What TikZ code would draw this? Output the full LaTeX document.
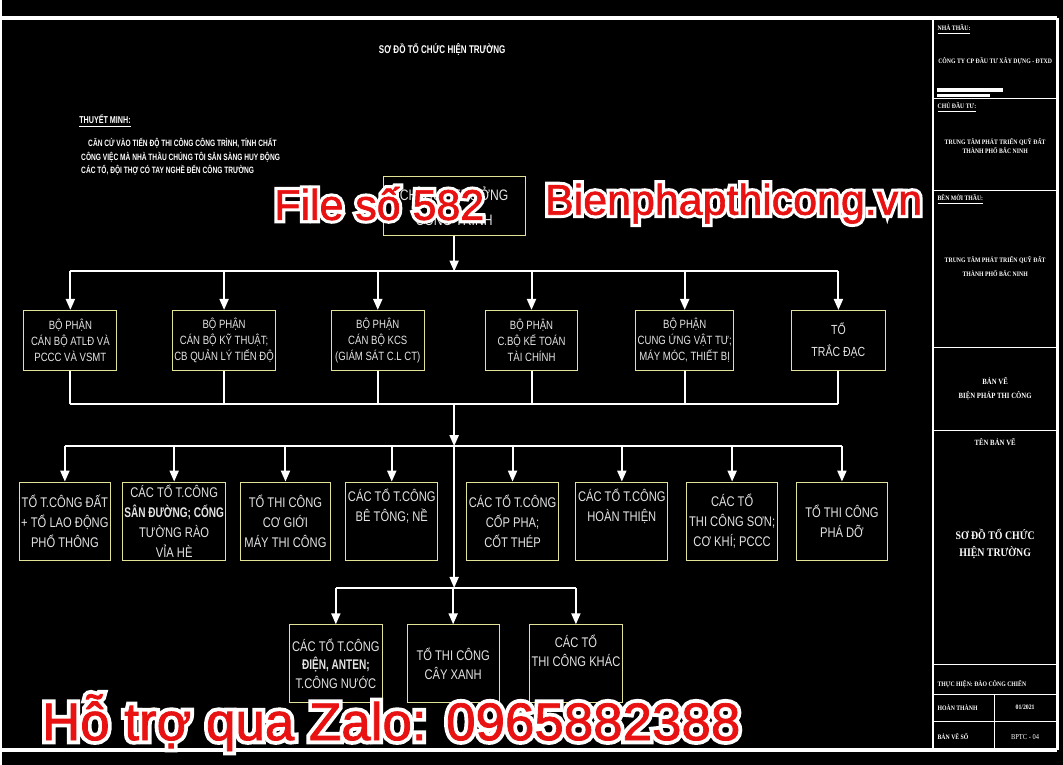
\documentclass[tikz,border=0pt]{standalone}
\usepackage{fontspec}
\usepackage{tikz}
\usetikzlibrary{arrows.meta,positioning,calc}
\setmainfont{Liberation Sans}
\newfontfamily\cadfont[FakeStretch=0.8]{Liberation Sans}
\newfontfamily\cadbold[FakeStretch=0.72]{Liberation Sans Bold}
\newfontfamily\tbfont[FakeStretch=0.85]{Liberation Serif}
\newfontfamily\haloface[FakeBold=16]{Liberation Sans}
\newfontfamily\redface[FakeBold=1.5]{Liberation Sans}
\definecolor{boxyellow}{RGB}{226,226,150}
\definecolor{cadgray}{RGB}{228,228,228}
\definecolor{zalored}{RGB}{232,18,18}

% red text with a white rim
\newcommand{\redmark}[4]{%
  \node[text=white, font=\haloface\fontsize{#3}{#3}\selectfont] at (#2) {#4};
  \node[text=zalored, font=\redface\fontsize{#3}{#3}\selectfont] (#1) at (#2) {#4};
}

\begin{document}
\begin{tikzpicture}[x=0.5pt,y=-0.5pt,
    link/.style={white, line width=1pt},
    arrowlink/.style={link, -{Triangle[width=4.5pt,length=5.5pt]}},
    rowa/.style={draw=boxyellow, line width=0.5pt, text=cadgray, align=center, inner sep=1pt,
      font=\cadfont\fontsize{6}{8}\selectfont, minimum width=46.5pt, minimum height=30pt},
    rowb/.style={rowa, font=\cadfont\fontsize{7}{10}\selectfont, minimum width=45.5pt, minimum height=39.5pt},
    rowc/.style={rowa, font=\cadfont\fontsize{7}{9.3}\selectfont, minimum width=46pt, minimum height=39pt},
    tbtext/.style={white, inner sep=0pt, font=\tbfont\bfseries\fontsize{3.4}{4.6}\selectfont, align=center},
    note/.style={white, inner sep=0pt, anchor=west, font=\cadbold\fontsize{4.6}{5}\selectfont}]

    % sheet
    \fill[black] (0,0) rectangle (1063,766);
    \draw[white, line width=2pt] (0,18) -- (1057,18);
    \draw[white, line width=2pt] (0,751) -- (1057,751);
    \draw[white, line width=1.5pt] (1057,18) -- (1057,751);
    \draw[white, line width=1pt] (933,18) -- (933,751);

    % title block
    \foreach \yy in {99,191,348,431,666,696,723}
        \draw[white, line width=0.6pt] (933,\yy) -- (1057,\yy);
    \draw[white, line width=0.6pt] (994,696) -- (994,751);
    \node[tbtext, anchor=west] (tbA) at (937,30) {\underline{NHÀ THẦU:}};
    \node[tbtext] (tbB) at (995,61) {CÔNG TY CP ĐẦU TƯ XÂY DỰNG - ĐTXD};
    \fill[white] (937,88) rectangle (1003,92);
    \fill[white] (937,94) rectangle (990,97);
    \node[tbtext, anchor=west] (tbC) at (937,108) {\underline{CHỦ ĐẦU TƯ:}};
    \node[tbtext] (tbD) at (995,146) {TRUNG TÂM PHÁT TRIỂN QUỸ ĐẤT\\THÀNH PHỐ BẮC NINH};
    \node[tbtext, anchor=west] (tbE) at (937,200) {\underline{BÊN MỜI THẦU:}};
    \node[tbtext] (tbF) at (995,267) {TRUNG TÂM PHÁT TRIỂN QUỸ ĐẤT\\[2pt]THÀNH PHỐ BẮC NINH};
    \node[tbtext, font=\tbfont\bfseries\fontsize{4}{7}\selectfont] (tbG) at (995,390) {BẢN VẼ\\BIỆN PHÁP THI CÔNG};
    \node[tbtext, font=\tbfont\bfseries\fontsize{4}{5}\selectfont] (tbH) at (995,443) {TÊN BẢN VẼ};
    \node[tbtext, font=\tbfont\bfseries\fontsize{5.8}{9}\selectfont] (tbI) at (995,545) {SƠ ĐỒ TỔ CHỨC\\HIỆN TRƯỜNG};
    \node[tbtext, anchor=west] (tbJ) at (937,685) {THỰC HIỆN: ĐÀO CÔNG CHIẾN};
    \node[tbtext, anchor=west] (tbK) at (937,709) {HOÀN THÀNH};
    \node[tbtext] (tbL) at (1025,709) {01/2021};
    \node[tbtext, anchor=west] (tbM) at (937,738) {BẢN VẼ SỐ};
    \node[tbtext, font=\tbfont\fontsize{3.8}{4.6}\selectfont] (tbN) at (1025,738) {BPTC - 04};

    % heading and notes
    \node[white, font=\cadbold\fontsize{5.6}{6}\selectfont] (title) at (441,50) {SƠ ĐỒ TỔ CHỨC HIỆN TRƯỜNG};
    \node[note, font=\cadbold\fontsize{5}{6}\selectfont] (tm) at (77,121) {\underline{THUYẾT MINH:}};
    \node[note] (tm1) at (86,143) {CĂN CỨ VÀO TIẾN ĐỘ THI CÔNG CÔNG TRÌNH, TÍNH CHẤT};
    \node[note] (tm2) at (79,157) {CÔNG VIỆC MÀ NHÀ THẦU CHÚNG TÔI SẴN SÀNG HUY ĐỘNG};
    \node[note] (tm3) at (79,171) {CÁC TỔ, ĐỘI THỢ CÓ TAY NGHỀ ĐẾN CÔNG TRƯỜNG};

    % top box
    \node[rowa, font=\cadfont\fontsize{7.6}{12.5}\selectfont, minimum width=71pt, minimum height=29.5pt]
        (chief) at (453,206.5) {CHỈ HUY TRƯỞNG\\CÔNG TRÌNH};

    % departments
    \node[rowa] (p1) at (68.5,341) {BỘ PHẬN\\CÁN BỘ ATLĐ VÀ\\PCCC VÀ VSMT};
    \node[rowa, minimum width=51.5pt] (p2) at (222.5,341) {BỘ PHẬN\\CÁN BỘ KỸ THUẬT;\\CB QUẢN LÝ TIẾN ĐỘ};
    \node[rowa] (p3) at (376.5,341) {BỘ PHẬN\\CÁN BỘ KCS\\(GIÁM SÁT C.L CT)};
    \node[rowa] (p4) at (530.5,341) {BỘ PHẬN\\C.BỘ KẾ TOÁN\\TÀI CHÍNH};
    \node[rowa, minimum width=47pt] (p5) at (684,341) {BỘ PHẬN\\CUNG ỨNG VẬT TƯ;\\MÁY MÓC, THIẾT BỊ};
    \node[rowa, minimum width=47pt, font=\cadfont\fontsize{6.6}{11}\selectfont] (p6) at (838,341) {TỔ\\TRẮC ĐẠC};

    % work teams
    \node[rowb] (q1) at (63,522.5) {TỔ T.CÔNG ĐẤT\\+ TỔ LAO ĐỘNG\\PHỔ THÔNG};
    \node[rowb, minimum width=46.5pt] (q2) at (172.5,522.5) {CÁC TỔ T.CÔNG\\{\cadbold SÂN ĐƯỜNG; CỐNG}\\TƯỜNG RÀO\\VỈA HÈ};
    \node[rowb] (q3) at (284,522.5) {TỔ THI CÔNG\\CƠ GIỚI\\MÁY THI CÔNG};
    \node[rowb] (q4) at (390.5,522.5) {CÁC TỔ T.CÔNG\\BÊ TÔNG; NỀ\\[6pt]};
    \node[rowb] (q5) at (511.5,522.5) {CÁC TỔ T.CÔNG\\CỐP PHA;\\CỐT THÉP};
    \node[rowb, minimum width=46pt] (q6) at (621,522.5) {CÁC TỔ T.CÔNG\\HOÀN THIỆN\\[6pt]};
    \node[rowb] (q7) at (731.5,522.5) {CÁC TỔ\\THI CÔNG SƠN;\\CƠ KHÍ; PCCC};
    \node[rowb] (q8) at (841.5,522.5) {TỔ THI CÔNG\\PHÁ DỠ};

    \node[rowc, minimum width=46.5pt] (r1) at (334.5,665) {CÁC TỔ T.CÔNG\\{\cadbold ĐIỆN, ANTEN;}\\T.CÔNG NƯỚC};
    \node[rowc] (r2) at (452,665) {TỔ THI CÔNG\\CÂY XANH};
    \node[rowc] (r3) at (575,665) {CÁC TỔ\\THI CÔNG KHÁC\\[4pt]};

    % connectors
    \coordinate (bus1) at (453,272);
    \coordinate (bus2) at (453,405);
    \coordinate (bus3) at (453,447);
    \coordinate (bus4) at (453,589);
    \draw[arrowlink] (chief) -- (bus1);
    \draw[link] (p1 |- bus1) -- (p6 |- bus1);
    \foreach \i in {1,...,6}
        \draw[arrowlink] (p\i |- bus1) -- (p\i.north);
    \foreach \i in {1,...,6}
        \draw[link] (p\i.south) -- (p\i |- bus2);
    \draw[link] (p1 |- bus2) -- (p6 |- bus2);
    \draw[arrowlink] (bus2) -- (bus3);
    \draw[link] (q1 |- bus3) -- (q8 |- bus3);
    \foreach \i in {1,...,8}
        \draw[arrowlink] (q\i |- bus3) -- (q\i.north);
    \draw[arrowlink] (bus3) -- (bus4);
    \draw[link] (r1 |- bus4) -- (r3 |- bus4);
    \foreach \i in {1,2,3}
        \draw[arrowlink] (r\i |- bus4) -- (r\i.north);

    % watermarks
    \redmark{wmA}{378,204}{21.5}{File số 582}
    \redmark{wmB}{733,204}{21.5}{Bienphapthicong.vn}
    \redmark{wmC}{390,724}{26.5}{Hỗ trợ qua Zalo: 0965882388}
\end{tikzpicture}
\end{document}
